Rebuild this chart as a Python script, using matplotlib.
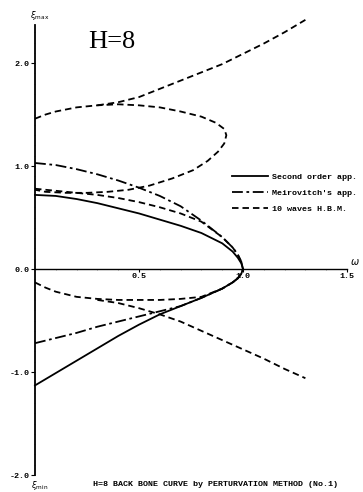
import matplotlib
matplotlib.use("Agg")
import matplotlib.pyplot as plt

# ---------------- data ----------------
# Second order approximation (solid)
second_up_x = [0.0, 0.1, 0.2, 0.3, 0.4, 0.5, 0.6, 0.7, 0.8, 0.9, 0.95, 0.975, 0.992, 1.0]
second_up_y = [0.72, 0.71, 0.68, 0.64, 0.59, 0.54, 0.48, 0.42, 0.35, 0.25, 0.17, 0.11, 0.055, 0.0]
second_lo_x = [0.0, 0.1, 0.2, 0.3, 0.4, 0.5, 0.6, 0.7, 0.8, 0.9, 0.95, 0.975, 0.992, 1.0]
second_lo_y = [-1.13, -1.01, -0.89, -0.77, -0.65, -0.54, -0.44, -0.36, -0.28, -0.19, -0.13, -0.09, -0.045, 0.0]

# Meirovitch's approximation (dash-dot)
meir_up_x = [0.0, 0.1, 0.2, 0.3, 0.4, 0.5, 0.6, 0.7, 0.8, 0.9, 0.95, 0.975, 0.992, 1.0]
meir_up_y = [1.03, 1.01, 0.97, 0.92, 0.86, 0.79, 0.71, 0.61, 0.47, 0.31, 0.21, 0.14, 0.07, 0.0]
meir_lo_x = [0.0, 0.1, 0.2, 0.3, 0.4, 0.5, 0.6, 0.7, 0.8, 0.9, 0.95, 0.975, 0.992, 1.0]
meir_lo_y = [-0.72, -0.67, -0.62, -0.56, -0.51, -0.46, -0.41, -0.36, -0.28, -0.19, -0.13, -0.09, -0.045, 0.0]

# 10 waves harmonic balance method (dashed)
hbm_loop_x = [0.0, 0.05, 0.1, 0.2, 0.3, 0.4, 0.5, 0.6, 0.7, 0.8, 0.87, 0.91, 0.92,
              0.91, 0.88, 0.83, 0.76, 0.66, 0.55, 0.45, 0.35, 0.25, 0.15, 0.05, 0.0]
hbm_loop_y = [1.46, 1.50, 1.53, 1.57, 1.59, 1.60, 1.59, 1.57, 1.53, 1.48, 1.42, 1.36, 1.30,
              1.22, 1.14, 1.05, 0.96, 0.88, 0.81, 0.77, 0.75, 0.74, 0.74, 0.75, 0.77]
hbm_rise_x = [0.3, 0.4, 0.5, 0.6, 0.7, 0.8, 0.9, 1.0, 1.1, 1.2, 1.3]
hbm_rise_y = [1.59, 1.62, 1.67, 1.75, 1.83, 1.91, 1.99, 2.09, 2.19, 2.30, 2.42]
hbm_up_x = [0.0, 0.1, 0.2, 0.3, 0.4, 0.5, 0.6, 0.7, 0.8, 0.9, 0.95, 0.975, 0.992, 1.0]
hbm_up_y = [0.78, 0.76, 0.74, 0.72, 0.69, 0.65, 0.60, 0.54, 0.46, 0.31, 0.21, 0.14, 0.07, 0.0]
hbm_lo_x = [0.0, 0.05, 0.1, 0.2, 0.3, 0.4, 0.5, 0.6, 0.7, 0.8, 0.9, 0.95, 0.975, 0.992, 1.0]
hbm_lo_y = [-0.13, -0.18, -0.22, -0.27, -0.29, -0.30, -0.30, -0.30, -0.29, -0.27, -0.19, -0.13, -0.09, -0.045, 0.0]
hbm_fall_x = [0.3, 0.4, 0.5, 0.6, 0.7, 0.8, 0.9, 1.0, 1.1, 1.2, 1.3]
hbm_fall_y = [-0.30, -0.33, -0.38, -0.44, -0.51, -0.60, -0.69, -0.78, -0.87, -0.97, -1.06]

y_ticks = [-2.0, -1.0, 0.0, 1.0, 2.0]
y_tick_labels = ["-2.0", "-1.0", "0.0", "1.0", "2.0"]
x_ticks = [0.5, 1.0, 1.5]
x_tick_labels = ["0.5", "1.0", "1.5"]
legend_labels = ["Second order app.", "Meirovitch's app.", "10 waves H.B.M."]
title_text = "H=8 BACK BONE CURVE by PERTURVATION METHOD (No.1)"

# ---------------- figure ----------------
W, H = 363, 492
fig = plt.figure(figsize=(W / 100, H / 100), dpi=100)
ax = fig.add_axes([35 / W, 1 - 475 / H, (347 - 35) / W, (475 - 25) / H])
ax.set_xlim(0, 1.5)
ax.set_ylim(-2.0, 2.37)

mono = "Liberation Mono"
dash = (0, (3.6, 2.2))
dashdot = (0, (6, 2, 1.5, 2))
lw = 1.3

l1, = ax.plot(second_up_x, second_up_y, color="black", lw=lw, ls="-", clip_on=False)
ax.plot(second_lo_x, second_lo_y, color="black", lw=lw, ls="-", clip_on=False)
l2, = ax.plot(meir_up_x, meir_up_y, color="black", lw=lw, ls=dashdot, clip_on=False)
ax.plot(meir_lo_x, meir_lo_y, color="black", lw=lw, ls=dashdot, clip_on=False)
l3, = ax.plot(hbm_loop_x, hbm_loop_y, color="black", lw=lw, ls=dash, clip_on=False)
ax.plot(hbm_rise_x, hbm_rise_y, color="black", lw=lw, ls=dash, clip_on=False)
ax.plot(hbm_up_x, hbm_up_y, color="black", lw=lw, ls=dash, clip_on=False)
ax.plot(hbm_lo_x, hbm_lo_y, color="black", lw=lw, ls=dash, clip_on=False)
ax.plot(hbm_fall_x, hbm_fall_y, color="black", lw=lw, ls=dash, clip_on=False)

# axes styling
for s in ["top", "right"]:
    ax.spines[s].set_visible(False)
ax.spines["bottom"].set_position(("data", 0))
ax.spines["left"].set_linewidth(1.3)
ax.spines["bottom"].set_linewidth(1.0)

ax.set_yticks(y_ticks)
ax.set_yticklabels(y_tick_labels, fontfamily=mono, fontweight="bold", fontsize=6)
ax.set_xticks(x_ticks)
ax.set_xticklabels(x_tick_labels, fontfamily=mono, fontweight="bold", fontsize=6)
ax.set_yticks([v / 10 for v in range(-20, 24)], minor=True)
ax.set_xticks([v / 10 for v in range(1, 15)], minor=True)
ax.tick_params(axis="y", which="major", direction="out", length=3, width=0.8, pad=1)
ax.tick_params(axis="x", which="major", direction="out", length=2, width=0.8, pad=1)
ax.tick_params(which="minor", direction="out", length=1.0, width=0.4, color="#555555")

leg = ax.legend([l1, l2, l3], legend_labels, loc="upper left",
                bbox_to_anchor=(232 / W, 1 - 173 / H), bbox_transform=fig.transFigure,
                frameon=False, handlelength=4.3, handletextpad=0.5, labelspacing=1.0,
                borderpad=0, borderaxespad=0,
                prop={"family": mono, "weight": "bold", "size": 6})

fig.text(112 / W, 1 - 42 / H, "H=8", fontfamily="Liberation Serif", fontsize=19,
         ha="center", va="center")
fig.text(40 / W, 1 - 16 / H, r"$\xi_{\rm max}$", fontsize=6, ha="center", va="center")
fig.text(40 / W, 1 - 486 / H, r"$\xi_{\rm min}$", fontsize=6, ha="center", va="center")
fig.text(355 / W, 1 - 262 / H, r"$\omega$", fontsize=7, ha="center", va="center")
fig.text(93 / W, 1 - 485 / H, title_text, fontfamily=mono, fontweight="bold",
         fontsize=6, ha="left", va="center")

fig.savefig("out.png", dpi=100)
